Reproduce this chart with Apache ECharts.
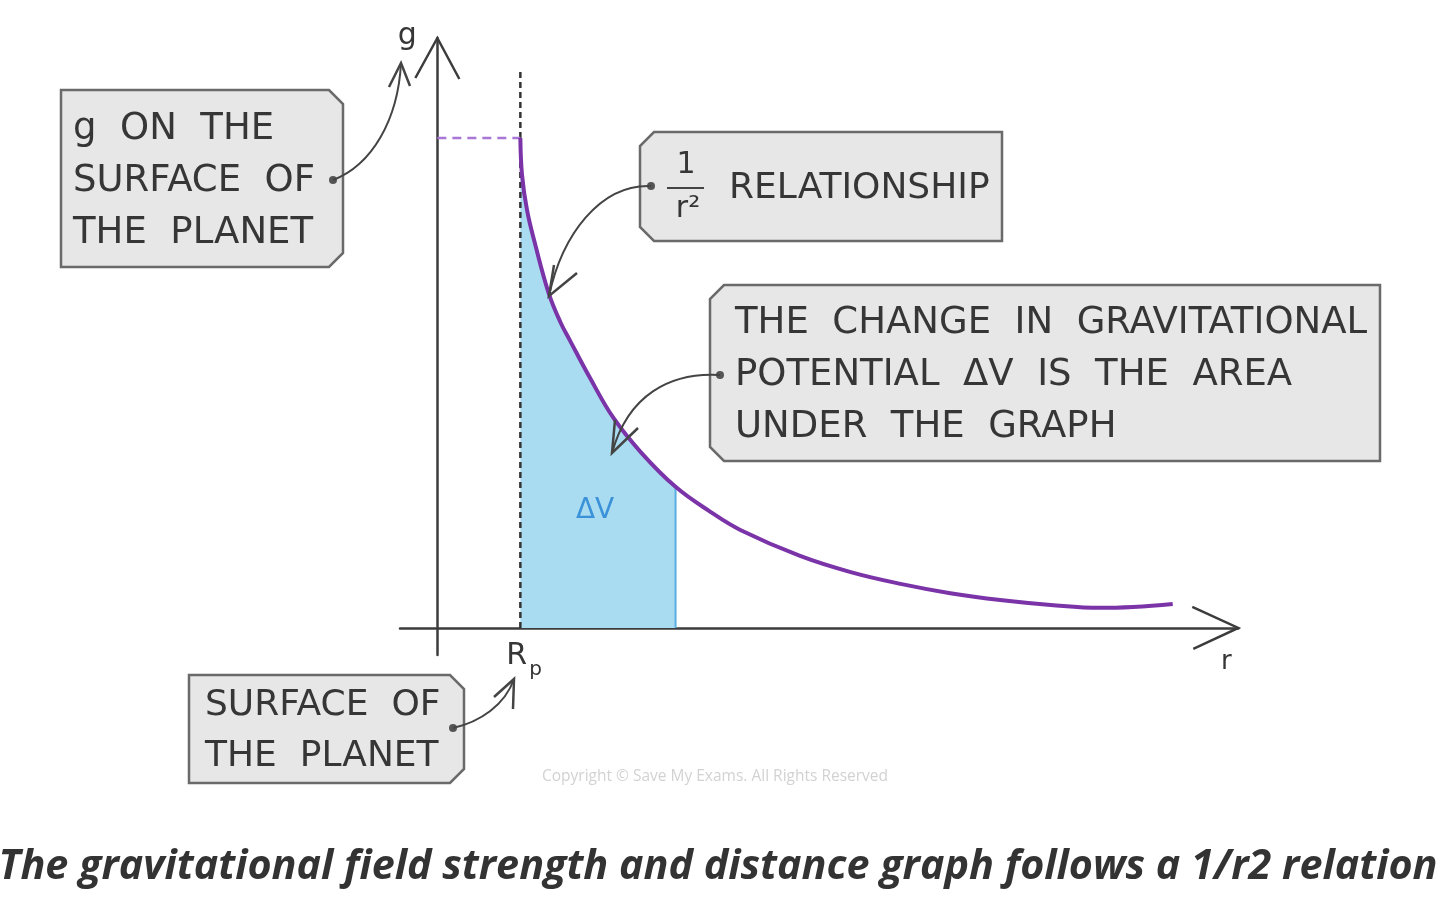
<!DOCTYPE html>
<html><head><meta charset="utf-8">
<script src="https://cdn.jsdelivr.net/npm/echarts/dist/echarts.min.js"></script>
<style>html,body{margin:0;padding:0;background:#fff}#c{width:1440px;height:915px}</style>
</head><body><div id="c"></div>
<script>
// ---- data (r in units of planet radius Rp, g in arbitrary units) ----
const rValues = [1.00, 1.02, 1.08, 1.18, 1.34, 1.48, 1.60, 1.84, 2.12, 2.45, 2.87, 3.29, 3.65, 4.37, 4.98, 5.58, 6.18, 6.78, 7.39, 7.99, 8.86];
const gValues = [10.0, 9.25, 8.53, 7.82, 6.84, 6.25, 5.86, 5.10, 4.29, 3.59, 2.88, 2.37, 2.00, 1.47, 1.14, 0.90, 0.71, 0.57, 0.47, 0.41, 0.49];
const surfaceR = 1.0;      // Rp
const surfaceG = 10.0;     // g at the surface
const areaEndR = 2.87;     // right edge of the shaded ΔV area
const rpLineTop = 11.39;   // top of the dashed line at Rp
const xRange = [-0.45, 9.65];
const yRange = [-0.55, 12.04];
const axisLabels = { g: 'g', r: 'r', rp: 'R', rpSub: 'p', dv: 'ΔV' };
const notes = {
  gSurface: ['g  ON  THE', 'SURFACE  OF', 'THE  PLANET'],
  relation: 'RELATIONSHIP',
  area: ['THE  CHANGE  IN  GRAVITATIONAL', 'POTENTIAL  ΔV  IS  THE  AREA', 'UNDER  THE  GRAPH'],
  surface: ['SURFACE  OF', 'THE  PLANET']
};
const caption = 'The gravitational field strength and distance graph follows a 1/r2 relation';
const copyright = 'Copyright © Save My Exams. All Rights Reserved';

const curve = rValues.map((r, i) => [r, gValues[i]]);
const areaPts = curve.filter(p => p[0] <= areaEndR);

const chart = echarts.init(document.getElementById('c'), null, { renderer: 'canvas' });
const PURPLE = '#7b33a8';
const AX = '#3c3c3c';
const option = {
  animation: false,
  backgroundColor: '#ffffff',
  grid: { left: 400, top: 38, width: 838.3, height: 616.9, containLabel: false },
  xAxis: {
    type: 'value', min: xRange[0], max: xRange[1],
    axisLine: { show: true, onZero: true, lineStyle: { color: AX, width: 2.5 } },
    axisTick: { show: false }, axisLabel: { show: false }, splitLine: { show: false }
  },
  yAxis: {
    type: 'value', min: yRange[0], max: yRange[1],
    axisLine: { show: true, onZero: true, lineStyle: { color: AX, width: 2.5 } },
    axisTick: { show: false }, axisLabel: { show: false }, splitLine: { show: false }
  },
  series: [
    { // shaded area ΔV
      type: 'line', data: areaPts, smooth: 0.4, showSymbol: false, z: 1,
      lineStyle: { width: 0 }, areaStyle: { color: '#a9dcf1', opacity: 1 }
    },
    { // right edge of area
      type: 'line', data: [[areaEndR, 0], [areaEndR, gValues[rValues.indexOf(areaEndR)]]],
      showSymbol: false, z: 2, lineStyle: { color: '#5aaee0', width: 2 }
    },
    { // dashed vertical at Rp
      type: 'line', data: [[surfaceR, 0], [surfaceR, rpLineTop]], showSymbol: false, z: 3,
      lineStyle: { color: '#333', width: 2.5, type: [6, 4] }
    },
    { // dashed purple horizontal at g surface
      type: 'line', data: [[0, surfaceG], [surfaceR, surfaceG]], showSymbol: false, z: 3,
      lineStyle: { color: '#a877d6', width: 2.5, type: [9, 6] }
    },
    { // 1/r^2 curve
      type: 'line', data: curve, smooth: 0.4, showSymbol: false, z: 4,
      lineStyle: { color: PURPLE, width: 4 }
    }
  ]
};
chart.setOption(option);

const px = (x, y) => chart.convertToPixel({ gridIndex: 0 }, [x, y]);
const yTip = px(0, yRange[1]);
const xTip = px(xRange[1], 0);
const rp = px(surfaceR, 0);
const dvPos = px(1.9, 2.4);

const HAND = '"DejaVu Sans", sans-serif';
const TXT = '#363636';
const FS = 37;
function box(x0, y0, x1, y1, side) {
  const c = 14;
  const pts = side === 'right'
    ? [[x0, y0], [x1 - c, y0], [x1, y0 + c], [x1, y1 - c], [x1 - c, y1], [x0, y1]]
    : [[x0 + c, y0], [x1, y0], [x1, y1], [x0 + c, y1], [x0, y1 - c], [x0, y0 + c]];
  return { type: 'polygon', shape: { points: pts }, style: { fill: '#e7e7e7', stroke: '#6a6a6a', lineWidth: 2.5 }, z: 10 };
}
function txt(s, x, y, size, opts) {
  return Object.assign({ type: 'text', x: x, y: y, z: 12,
    style: Object.assign({ text: s, fontSize: size, fontFamily: HAND, fill: TXT, align: 'left', verticalAlign: 'middle' }, (opts || {})) });
}
function dot(x, y) { return { type: 'circle', shape: { cx: x, cy: y, r: 4 }, style: { fill: '#555' }, z: 13 }; }
function curveArrow(x1, y1, c1x, c1y, c2x, c2y, x2, y2, a1, a2) {
  return [
    { type: 'bezierCurve', shape: { x1, y1, cpx1: c1x, cpy1: c1y, cpx2: c2x, cpy2: c2y, x2, y2 }, style: { stroke: '#444', lineWidth: 2, fill: null }, z: 13 },
    { type: 'polyline', shape: { points: [a1, [x2, y2], a2] }, style: { stroke: '#444', lineWidth: 2.5, fill: null }, z: 13 }
  ];
}

const g = [];
// axis arrow heads
g.push({ type: 'polyline', shape: { points: [[yTip[0] - 22, yTip[1] + 40], yTip, [yTip[0] + 22, yTip[1] + 41]] }, style: { stroke: AX, lineWidth: 2.5, fill: null }, z: 5 });
g.push({ type: 'polyline', shape: { points: [[xTip[0] - 46, xTip[1] - 21], xTip, [xTip[0] - 45, xTip[1] + 21]] }, style: { stroke: AX, lineWidth: 2.5, fill: null }, z: 5 });
// axis labels
g.push(txt(axisLabels.g, yTip[0] - 30, yTip[1] - 2, 30, { align: 'center' }));
g.push(txt(axisLabels.r, xTip[0] - 12, xTip[1] + 34, 26, { align: 'center' }));
g.push(txt(axisLabels.rp, rp[0] - 14, rp[1] + 28, 30));
g.push(txt(axisLabels.rpSub, rp[0] + 9, rp[1] + 42, 20));
g.push(txt(axisLabels.dv, dvPos[0], dvPos[1], 28, { fill: '#3b92d8', align: 'center' }));

// box 1
g.push(box(61, 90, 343, 267, 'right'));
notes.gSurface.forEach((s, i) => g.push(txt(s, 73, 129 + i * 52, FS)));
g.push(dot(333, 180));
g.push(...curveArrow(333, 180, 372, 165, 398, 120, 401, 63, [389, 87], [410, 86]));

// box 2
g.push(box(640, 132, 1002, 241, 'left'));
g.push(txt('1', 686, 165, 30, { align: 'center' }));
g.push({ type: 'line', shape: { x1: 667, y1: 188, x2: 704, y2: 188 }, style: { stroke: '#444', lineWidth: 2 }, z: 12 });
g.push(txt('r²', 688, 209, 30, { align: 'center' }));
g.push(txt(notes.relation, 729, 189, 36));
g.push(dot(651, 186));
g.push(...curveArrow(651, 186, 600, 184, 562, 235, 549, 296, [554, 265], [577, 273]));

// box 3
g.push(box(710, 285, 1380, 461, 'left'));
notes.area.forEach((s, i) => g.push(txt(s, 735, 323 + i * 52, FS)));
g.push(dot(720, 375));
g.push(...curveArrow(720, 375, 670, 372, 628, 395, 612, 453, [615, 420], [638, 428]));

// box 4
g.push(box(189, 675, 464, 783, 'right'));
notes.surface.forEach((s, i) => g.push(txt(s, 205, 706 + i * 51, FS - 1)));
g.push(dot(453, 728));
g.push(...curveArrow(453, 728, 480, 722, 505, 705, 514, 679, [494, 697], [513, 709]));

// copyright & caption
g.push({ type: 'text', x: 715, y: 777, z: 2, style: { text: copyright, fontSize: 15.5, fontFamily: '"Open Sans", sans-serif', fill: '#d2d2d2', align: 'center', verticalAlign: 'middle' } });
g.push({ type: 'text', x: 718, y: 867, z: 12, style: { text: caption, fontSize: 41.3, fontFamily: '"Open Sans", sans-serif', fontWeight: 'bold', fontStyle: 'italic', fill: '#333', align: 'center', verticalAlign: 'middle' } });

chart.setOption({ graphic: { elements: g } });
</script></body></html>
